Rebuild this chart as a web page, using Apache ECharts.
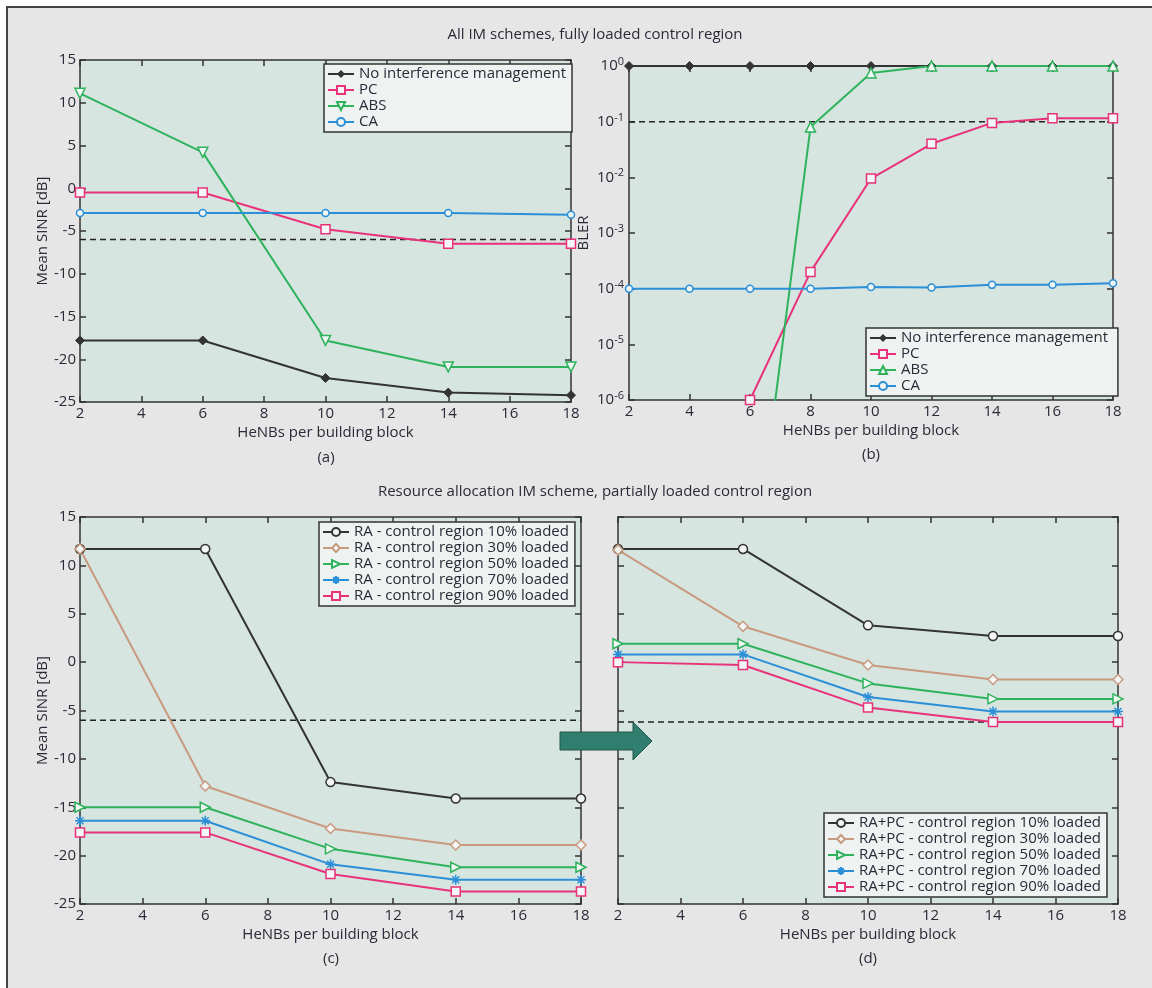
<!DOCTYPE html>
<html>
<head>
<meta charset="utf-8">
<title>IM schemes</title>
<script src="https://cdn.jsdelivr.net/npm/echarts@6/dist/echarts.min.js"></script>
<style>
    body { margin: 0; background: #fff; }
    #frame {
        position: absolute; left: 6px; top: 6px; right: 0; bottom: 0;
        background: #e6e6e6; border-left: 2px solid #444; border-top: 2px solid #444;
    }
    #main { position: absolute; left: 0; top: 0; width: 1152px; height: 988px; }
</style>
</head>
<body>
<div id="frame"></div>
<div id="main"></div>
<script>
// x positions (HeNBs per building block)
const xA = [2, 6, 10, 14, 18];
const xB = [2, 4, 6, 8, 10, 12, 14, 16, 18];

// (a) mean SINR, fully loaded
const aNoIm = [-17.8, -17.8, -22.2, -23.9, -24.2];
const aPc = [-0.5, -0.5, -4.8, -6.5, -6.5];
const aAbs = [11.1, 4.2, -17.8, -20.9, -20.9];
const aCa = [-2.9, -2.9, -2.9, -2.9, -3.1];
const aThr = -6;

// (b) BLER, fully loaded
const bNoIm = [1, 1, 1, 1, 1, 1, 1, 1, 1];
const bPc = [null, null, 1e-6, 2e-4, 9.5e-3, 4e-2, 9.5e-2, 0.115, 0.115];
const bAbs = [null, null, 3e-10, 0.08, 0.75, 1, 1, 1, 1];
const bCa = [1e-4, 1e-4, 1e-4, 1e-4, 1.07e-4, 1.05e-4, 1.17e-4, 1.18e-4, 1.25e-4];
const bThr = 0.1;

// (c) RA, partially loaded
const cR10 = [11.7, 11.7, -12.4, -14.1, -14.1];
const cR30 = [11.7, -12.8, -17.2, -18.9, -18.9];
const cR50 = [-15, -15, -19.3, -21.2, -21.2];
const cR70 = [-16.4, -16.4, -20.9, -22.5, -22.5];
const cR90 = [-17.6, -17.6, -21.9, -23.7, -23.7];
const cThr = -6;

// (d) RA+PC, partially loaded
const dR10 = [11.7, 11.7, 3.8, 2.7, 2.7];
const dR30 = [11.6, 3.7, -0.3, -1.8, -1.8];
const dR50 = [1.9, 1.9, -2.2, -3.8, -3.8];
const dR70 = [0.8, 0.8, -3.6, -5.1, -5.1];
const dR90 = [0, -0.3, -4.7, -6.2, -6.2];
const dThr = -6.2;

const imNames = ["No interference management", "PC", "ABS", "CA"];
const raLoads = ["10%", "30%", "50%", "70%", "90%"];

const FONT = "Open Sans";
const FS = 15;
const AX = "#333";
const TXT = "#2a2a38";
const BG = "#f2f6f5";
const cBlack = "#333333", cPink = "#e8337a", cGreen = "#2eb35c", cBlue = "#2b8fd8", cTan = "#c99a80";
const asterisk = "path://M5,0 L5,10 M0,5 L10,5 M1.5,1.5 L8.5,8.5 M8.5,1.5 L1.5,8.5";

function pairs(xs, ys) {
    return xs.map((x, i) => [x, ys[i]]).filter((p) => p[1] != null);
}

function xAxes(gi) {
    const base = {
        gridIndex: gi, type: "value", min: 2, max: 18, interval: 2,
        axisLine: { onZero: false, lineStyle: { color: AX, width: 1.5 } },
        axisTick: { inside: true, length: 6, lineStyle: { color: AX, width: 1.5 } },
        splitLine: { show: false },
    };
    return [
        Object.assign({}, base, {
            position: "bottom",
            name: "HeNBs per building block", nameLocation: "middle", nameGap: 23,
            nameTextStyle: { color: TXT, fontSize: FS, fontFamily: FONT },
            axisLabel: { margin: 4, color: TXT, fontSize: FS, fontFamily: FONT },
        }),
        Object.assign({}, base, { position: "top", axisLabel: { show: false } }),
    ];
}

function yAxes(gi, showLabel, name) {
    const base = {
        gridIndex: gi, type: "value", min: -25, max: 15, interval: 5,
        axisLine: { onZero: false, lineStyle: { color: AX, width: 1.5 } },
        axisTick: { inside: true, length: 6, lineStyle: { color: AX, width: 1.5 } },
        splitLine: { show: false },
    };
    return [
        Object.assign({}, base, {
            position: "left",
            name: name, nameLocation: "middle", nameGap: 30,
            nameTextStyle: { color: TXT, fontSize: FS, fontFamily: FONT },
            axisLabel: { show: showLabel, margin: 4, color: TXT, fontSize: FS, fontFamily: FONT },
        }),
        Object.assign({}, base, { position: "right", axisLabel: { show: false } }),
    ];
}

function logAxes(gi) {
    const base = {
        gridIndex: gi, type: "log", logBase: 10, min: 1e-6, max: 1,
        axisLine: { onZero: false, lineStyle: { color: AX, width: 1.5 } },
        axisTick: { inside: true, length: 6, lineStyle: { color: AX, width: 1.5 } },
        splitLine: { show: false },
    };
    return [
        Object.assign({}, base, {
            position: "left",
            name: "BLER", nameLocation: "middle", nameGap: 38,
            nameTextStyle: { color: TXT, fontSize: FS, fontFamily: FONT },
            axisLabel: {
                margin: 5,
                formatter: (v) => "{b|10}{s|" + Math.round(Math.log10(v)) + "}",
                rich: {
                    b: { color: TXT, fontSize: FS, fontFamily: FONT },
                    s: { color: TXT, fontSize: 11, fontFamily: FONT, padding: [0, 0, 8, 0] },
                },
            },
        }),
        Object.assign({}, base, { position: "right", axisLabel: { show: false } }),
    ];
}

function line(name, gi, xs, ys, color, symbol, extra) {
    const hollow = symbol !== "diamond" || (extra && extra.hollow);
    const s = Object.assign({
        name: name, type: "line",
        xAxisIndex: 2 * gi, yAxisIndex: 2 * gi,
        data: pairs(xs, ys),
        symbol: symbol, symbolSize: 9,
        lineStyle: { color: color, width: 2 },
        itemStyle: hollow
            ? { color: BG, borderColor: color, borderWidth: 1.5 }
            : { color: color, borderColor: color },
        emphasis: { disabled: true },
        clip: true,
    }, extra || {});
    delete s.hollow;
    return s;
}

function thr(gi, v) {
    return {
        name: "thr" + gi, type: "line",
        xAxisIndex: 2 * gi, yAxisIndex: 2 * gi,
        data: [[2, v], [18, v]],
        symbol: "none", silent: true,
        lineStyle: { color: "#222", width: 1.5, type: [6, 4] },
    };
}

const legendBase = {
    orient: "vertical", selectedMode: false,
    backgroundColor: "#eef3f2", borderColor: "#333", borderWidth: 1.5, borderRadius: 0,
    padding: [2, 6, 2, 3], itemGap: 0, itemWidth: 26, itemHeight: 10,
    textStyle: { color: TXT, fontSize: FS, fontFamily: FONT, lineHeight: 16 },
};

const bNames = imNames.map((n) => n + " ");
const cNames = raLoads.map((l) => "RA - control region " + l + " loaded");
const dNames = raLoads.map((l) => "RA+PC - control region " + l + " loaded");

const series = [
    thr(0, aThr),
    line(imNames[0], 0, xA, aNoIm, cBlack, "diamond"),
    line(imNames[1], 0, xA, aPc, cPink, "rect"),
    line(imNames[2], 0, xA, aAbs, cGreen, "triangle", { symbolRotate: 180, symbolSize: 10 }),
    line(imNames[3], 0, xA, aCa, cBlue, "circle", { symbolSize: 7 }),

    thr(1, bThr),
    line(bNames[0], 1, xB, bNoIm, cBlack, "diamond"),
    line(bNames[1], 1, xB, bPc, cPink, "rect"),
    line(bNames[2], 1, xB, bAbs, cGreen, "triangle", { symbolSize: 10 }),
    line(bNames[3], 1, xB, bCa, cBlue, "circle", { symbolSize: 7 }),

    thr(2, cThr),
    line(cNames[0], 2, xA, cR10, cBlack, "circle", { hollow: true }),
    line(cNames[1], 2, xA, cR30, cTan, "diamond", { hollow: true, symbolSize: 10 }),
    line(cNames[2], 2, xA, cR50, cGreen, "triangle", { symbolRotate: -90, symbolSize: 10 }),
    line(cNames[3], 2, xA, cR70, cBlue, asterisk, { symbolSize: 10 }),
    line(cNames[4], 2, xA, cR90, cPink, "rect"),

    thr(3, dThr),
    line(dNames[0], 3, xA, dR10, cBlack, "circle", { hollow: true }),
    line(dNames[1], 3, xA, dR30, cTan, "diamond", { hollow: true, symbolSize: 10 }),
    line(dNames[2], 3, xA, dR50, cGreen, "triangle", { symbolRotate: -90, symbolSize: 10 }),
    line(dNames[3], 3, xA, dR70, cBlue, asterisk, { symbolSize: 10 }),
    line(dNames[4], 3, xA, dR90, cPink, "rect"),
];

const gridStyle = { show: true, backgroundColor: "#d6e5e0", borderWidth: 0 };

function label(text, x, y, size) {
    return {
        type: "text", x: x, y: y,
        style: { text: text, align: "center", verticalAlign: "middle", font: size + 'px "Open Sans"', fill: TXT },
    };
}

const option = {
    animation: false,
    grid: [
        Object.assign({ left: 80, top: 60, width: 491, height: 342 }, gridStyle),
        Object.assign({ left: 629, top: 66, width: 484, height: 334 }, gridStyle),
        Object.assign({ left: 80, top: 517, width: 501, height: 387 }, gridStyle),
        Object.assign({ left: 618, top: 517, width: 500, height: 387 }, gridStyle),
    ],
    xAxis: [].concat(xAxes(0), xAxes(1), xAxes(2), xAxes(3)),
    yAxis: [].concat(
        yAxes(0, true, "Mean SINR [dB]"),
        logAxes(1),
        yAxes(2, true, "Mean SINR [dB]"),
        yAxes(3, false, "")
    ),
    legend: [
        Object.assign({ data: imNames, left: 324, top: 64 }, legendBase),
        Object.assign({ data: bNames, left: 866, top: 328 }, legendBase),
        Object.assign({ data: cNames, left: 319, top: 522 }, legendBase),
        Object.assign({ data: dNames, left: 824, top: 813 }, legendBase),
    ],
    graphic: [
        label("All IM schemes, fully loaded control region", 595, 35, 15),
        label("Resource allocation IM scheme, partially loaded control region", 595, 492, 15),
        label("(a)", 326, 458, FS),
        label("(b)", 871, 455, FS),
        label("(c)", 331, 959, FS),
        label("(d)", 868, 959, FS),
        {
            type: "polygon", z: 100,
            shape: { points: [[560, 732], [633, 732], [633, 722], [652, 741], [633, 760], [633, 750], [560, 750]] },
            style: { fill: "#2f7e6e", stroke: "#24564b", lineWidth: 1 },
        },
    ],
    series: series,
};

const chart = echarts.init(document.getElementById("main"));
chart.setOption(option);
</script>
</body>
</html>
